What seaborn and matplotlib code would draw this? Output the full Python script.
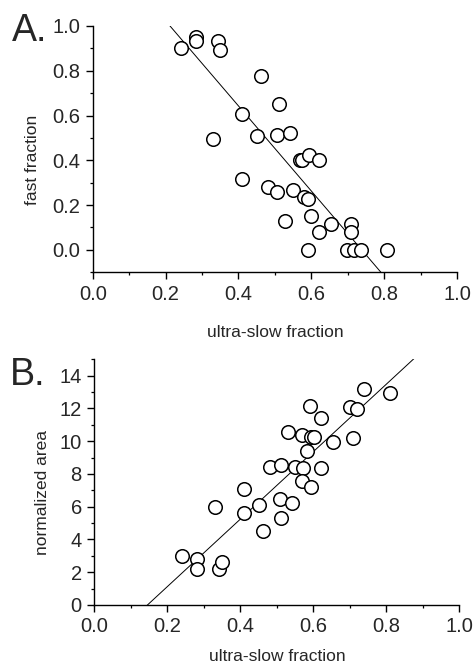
import numpy as np
import pandas as pd
import matplotlib
matplotlib.use("Agg")
import matplotlib.pyplot as plt
import seaborn as sns
from matplotlib.ticker import MultipleLocator

# ---- data ----
a_ultra_slow = [0.241, 0.283, 0.283, 0.345, 0.350, 0.462, 0.511, 0.410, 0.330, 0.450,
                0.506, 0.541, 0.570, 0.574, 0.595, 0.622, 0.410, 0.480, 0.506, 0.551,
                0.581, 0.591, 0.529, 0.600, 0.620, 0.653, 0.709, 0.709, 0.590, 0.698,
                0.718, 0.736, 0.808]
a_fast = [0.903, 0.952, 0.933, 0.933, 0.891, 0.776, 0.652, 0.607, 0.493, 0.507,
          0.512, 0.522, 0.403, 0.400, 0.425, 0.403, 0.318, 0.281, 0.258, 0.269,
          0.236, 0.227, 0.131, 0.152, 0.082, 0.116, 0.116, 0.082, 0.000, 0.000,
          0.000, 0.000, 0.000]

b_ultra_slow = [0.241, 0.280, 0.280, 0.331, 0.342, 0.349, 0.410, 0.410, 0.450, 0.461,
                0.481, 0.511, 0.509, 0.511, 0.532, 0.542, 0.550, 0.570, 0.573, 0.570,
                0.583, 0.591, 0.594, 0.603, 0.595, 0.620, 0.620, 0.653, 0.700, 0.721,
                0.710, 0.740, 0.810]
b_area = [3.00, 2.80, 2.17, 5.98, 2.17, 2.64, 7.10, 5.62, 6.13, 4.52,
          8.42, 8.56, 6.45, 5.32, 10.59, 6.25, 8.42, 10.39, 8.38, 7.57,
          9.43, 12.17, 10.25, 10.25, 7.20, 11.40, 8.36, 9.98, 12.07, 11.97,
          10.18, 13.19, 12.92]

# linear fits (slope, intercept) as drawn in the reference
a_fit = (-1.90, 1.403)
b_fit = (20.6, -3.0)

x_ticks = [0.0, 0.2, 0.4, 0.6, 0.8, 1.0]
a_yticks = [0.0, 0.2, 0.4, 0.6, 0.8, 1.0]
b_yticks = [0, 2, 4, 6, 8, 10, 12, 14]

sns.set_style("ticks")
plt.rcParams["font.family"] = ["Liberation Sans", "DejaVu Sans"]

fig = plt.figure(figsize=(4.74, 6.67), dpi=100)
axA = fig.add_axes([0.1956, 0.5918, 0.7686, 0.3693])
axB = fig.add_axes([0.199, 0.0930, 0.770, 0.3683])

dfA = pd.DataFrame({"x": a_ultra_slow, "y": a_fast})
dfB = pd.DataFrame({"x": b_ultra_slow, "y": b_area})
xfit = np.array([0.0, 1.0])

for ax, df, fit in ((axA, dfA, a_fit), (axB, dfB, b_fit)):
    sns.lineplot(x=xfit, y=fit[0] * xfit + fit[1], ax=ax, color="black",
                 linewidth=0.7, zorder=1)
    sns.scatterplot(data=df, x="x", y="y", ax=ax, s=95, facecolor="white",
                    edgecolor="black", linewidth=1.1, zorder=3)
    ax.set_xlim(0, 1.0)
    ax.set_xticks(x_ticks)
    ax.set_xticklabels([f"{t:.1f}" for t in x_ticks])
    ax.xaxis.set_minor_locator(MultipleLocator(0.1))
    for side in ("top", "right"):
        ax.spines[side].set_visible(False)
    for side in ("left", "bottom"):
        ax.spines[side].set_linewidth(1.0)
        ax.spines[side].set_color("black")
    ax.tick_params(which="major", direction="out", length=5, width=1.0,
                   labelsize=14.5, pad=4, color="black")
    ax.tick_params(which="minor", direction="out", length=2.5, width=0.9,
                   color="black")
    ax.set_xlabel("ultra-slow fraction", fontsize=12.5)

axA.set_ylim(-0.1, 1.0)
axA.set_yticks(a_yticks)
axA.set_yticklabels([f"{t:.1f}" for t in a_yticks])
axA.yaxis.set_minor_locator(MultipleLocator(0.1))
axA.set_ylabel("fast fraction", fontsize=12.5)
axA.yaxis.set_label_coords(-0.145, 0.456)
axA.xaxis.set_label_coords(0.5, -0.214)

axB.set_ylim(0, 15)
axB.set_yticks(b_yticks)
axB.set_yticklabels([str(t) for t in b_yticks])
axB.yaxis.set_minor_locator(MultipleLocator(1))
axB.set_ylabel("normalized area", fontsize=12.5)
axB.yaxis.set_label_coords(-0.122, 0.456)
axB.xaxis.set_label_coords(0.5, -0.178)

fig.text(0.025, 0.939, "A.", fontsize=27, va="baseline", ha="left")
fig.text(0.021, 0.423, "B.", fontsize=27, va="baseline", ha="left")

fig.savefig("out.png", dpi=100)
